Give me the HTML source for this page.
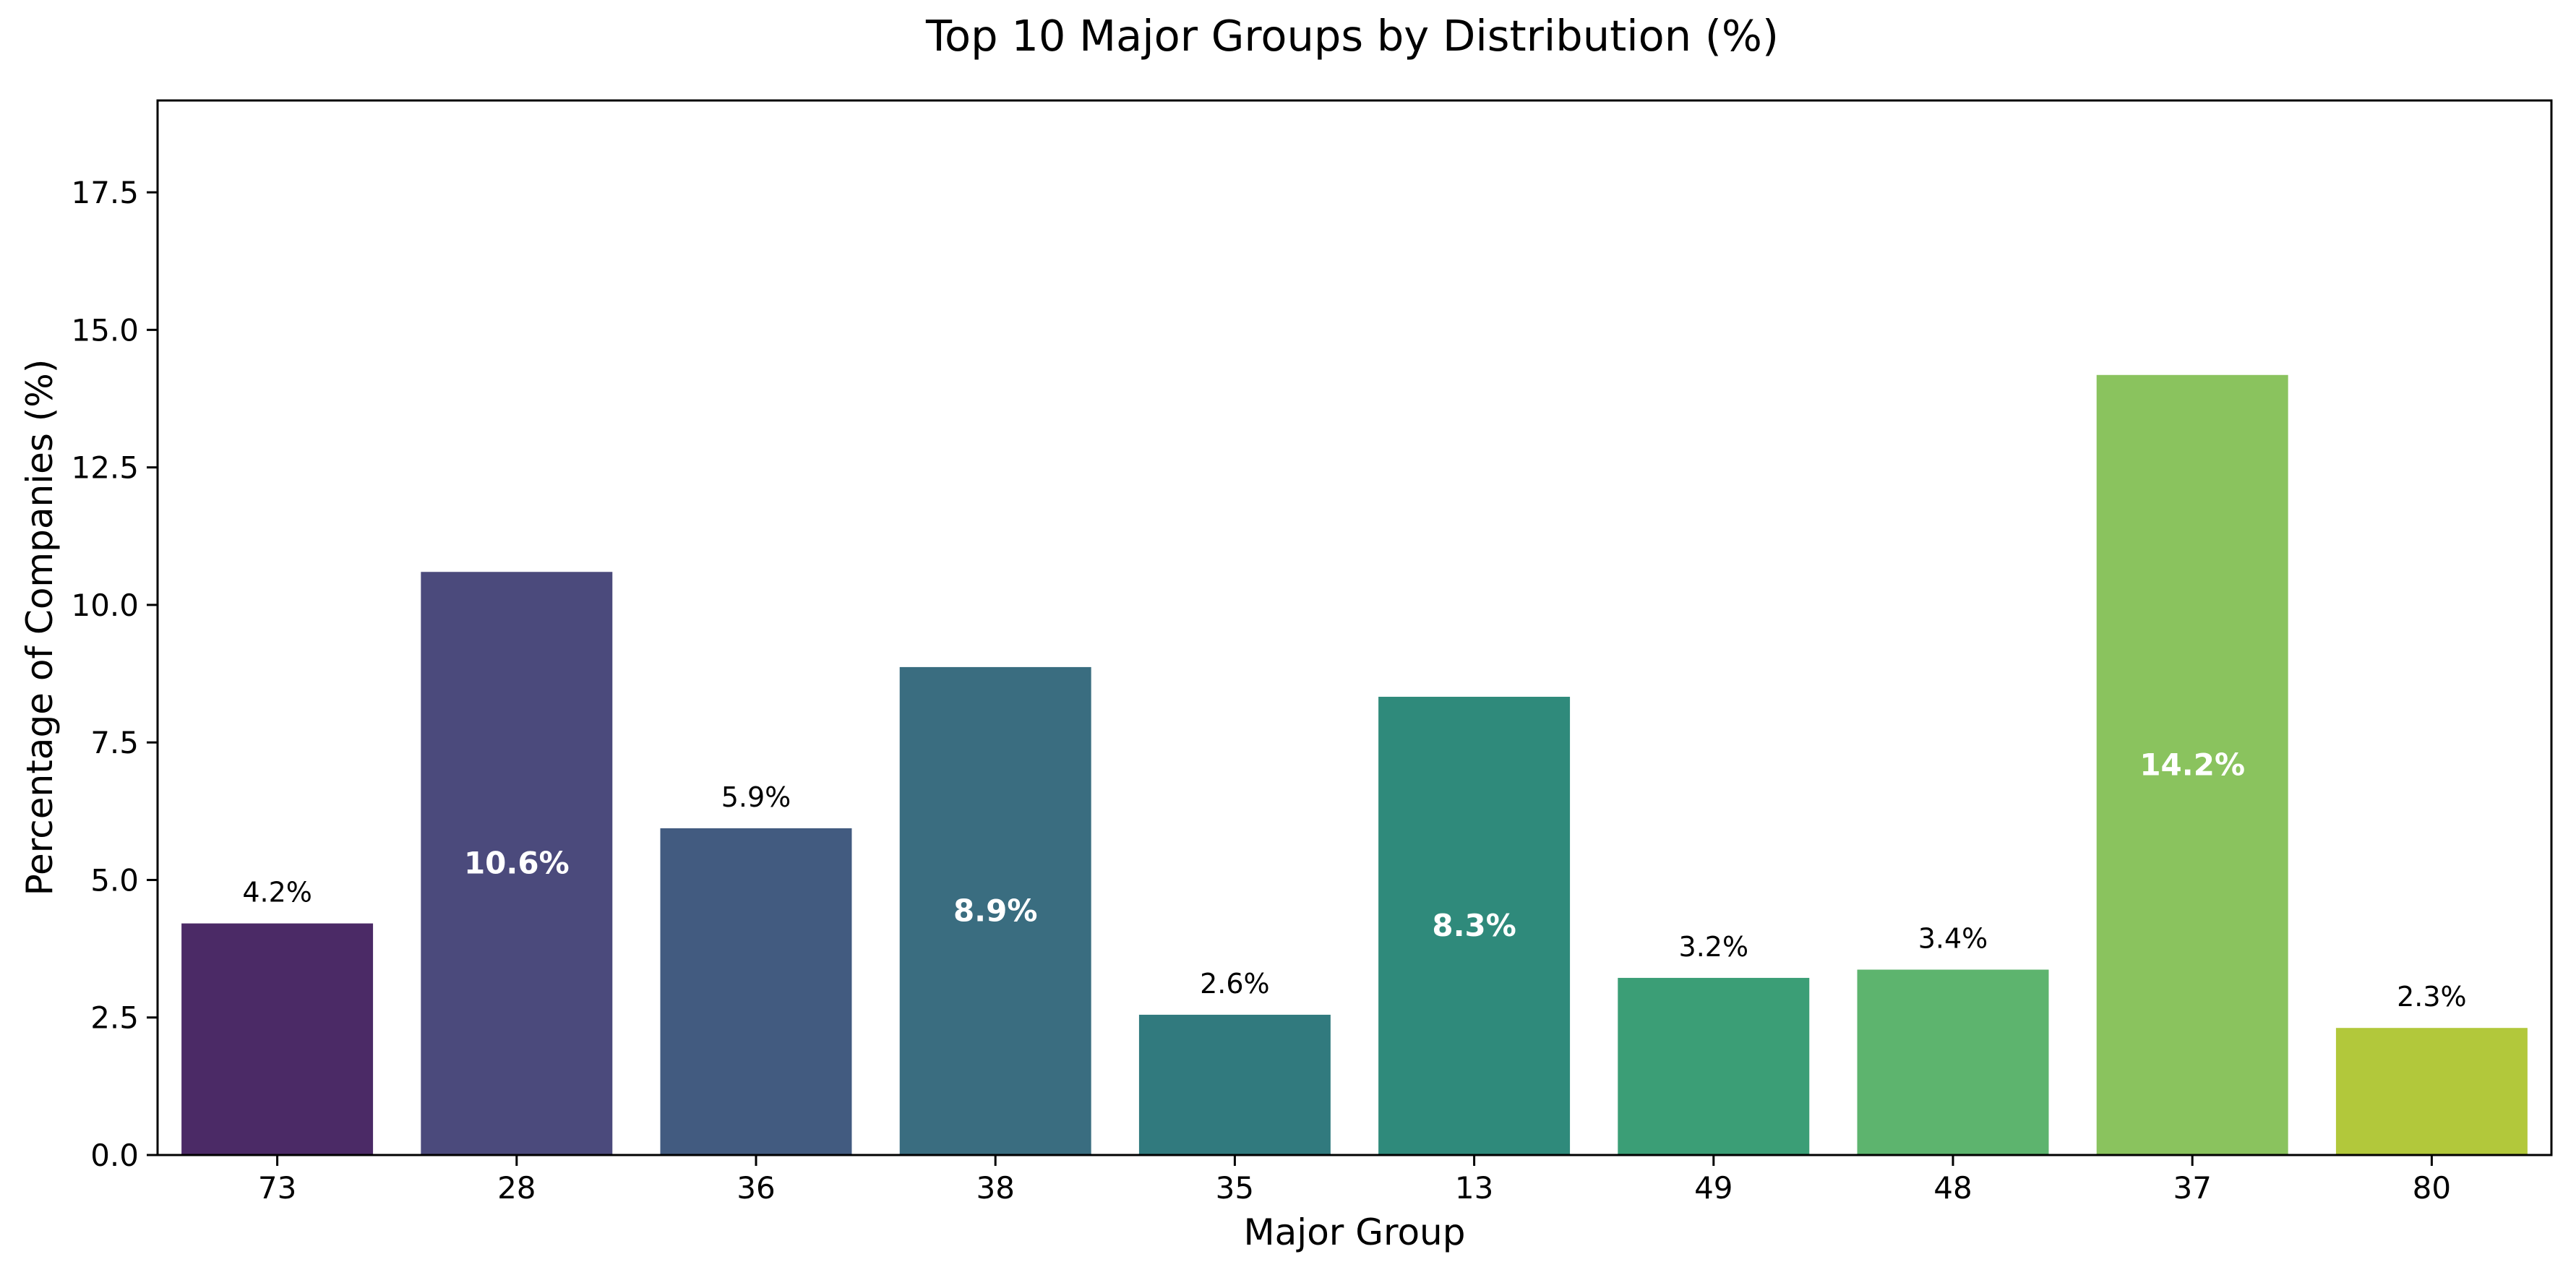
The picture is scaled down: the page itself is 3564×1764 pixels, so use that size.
<!DOCTYPE html>
<html><head><meta charset="utf-8"><style>
html,body{margin:0;padding:0;background:#fff;}
svg{display:block;font-family:"DejaVu Sans","Liberation Sans",sans-serif;}
</style></head><body>
<svg id="chart" width="3564" height="1764" viewBox="0 0 3564 1764">
<text x="1871" y="70" text-anchor="middle" font-size="59" fill="#000">Top 10 Major Groups by Distribution (%)</text>
<text x="1874" y="1722" text-anchor="middle" font-size="50" fill="#000">Major Group</text>
<text transform="translate(72,868) rotate(-90)" text-anchor="middle" font-size="50" fill="#000">Percentage of Companies (%)</text>
<g id="bars"></g><g id="axes"></g>
</svg>
<script>
const categories = ["73","28","36","38","35","13","49","48","37","80"];
const values = [4.21,10.6,5.94,8.87,2.55,8.33,3.22,3.37,14.18,2.31];
const barLabels = ["4.2%","10.6%","5.9%","8.9%","2.6%","8.3%","3.2%","3.4%","14.2%","2.3%"];
const colors = ["#4b2a66","#4b4a7c","#425b80","#3a6d80","#317a7e","#2f8a7b","#3b9e76","#5db46e","#8ac35e","#b2c83b"];
const yTicks = [0,2.5,5,7.5,10,12.5,15,17.5];
const yTickLabels = ["0.0","2.5","5.0","7.5","10.0","12.5","15.0","17.5"];
const yMax = 19.17;

const L=218,R=3530,T=139,B=1598;
const ns="http://www.w3.org/2000/svg";
const y=v=>B-(v/yMax)*(B-T);
const slot=(R-L)/categories.length;
const xc=i=>L+slot*(i+0.5);
const bars=document.getElementById('bars'), axes=document.getElementById('axes');
function mk(tag,attrs,parent){const e=document.createElementNS(ns,tag);for(const k in attrs)e.setAttribute(k,attrs[k]);parent.appendChild(e);return e;}
values.forEach((v,i)=>{
  const w=slot*0.8;
  const r=mk('rect',{x:xc(i)-w/2,y:y(v),width:w,height:B-y(v),fill:colors[i]},bars);
  
  
  const inside=v>7;
  const t=mk('text',{x:xc(i),y:inside?y(v/2)+14:y(v)-30,'text-anchor':'middle','font-size':inside?42:38,'font-weight':inside?'bold':'normal',fill:inside?'#fff':'#000'},bars);
  t.textContent=barLabels[i];
  
  
  mk('line',{x1:xc(i),x2:xc(i),y1:B,y2:B+15,stroke:'#000','stroke-width':3},axes);
  const xl=mk('text',{x:xc(i),y:B+60,'text-anchor':'middle','font-size':42,fill:'#000'},axes);
  xl.textContent=categories[i];
  
  
});
yTicks.forEach((v,i)=>{
  mk('line',{x1:L-15,x2:L,y1:y(v),y2:y(v),stroke:'#000','stroke-width':3},axes);
  const t=mk('text',{x:L-26,y:y(v)+15,'text-anchor':'end','font-size':42,fill:'#000'},axes);
  t.textContent=yTickLabels[i];
  
  
});
const frame=mk('rect',{x:L,y:T,width:R-L,height:B-T,fill:'none',stroke:'#000','stroke-width':3},axes);


</script>
</body></html>
